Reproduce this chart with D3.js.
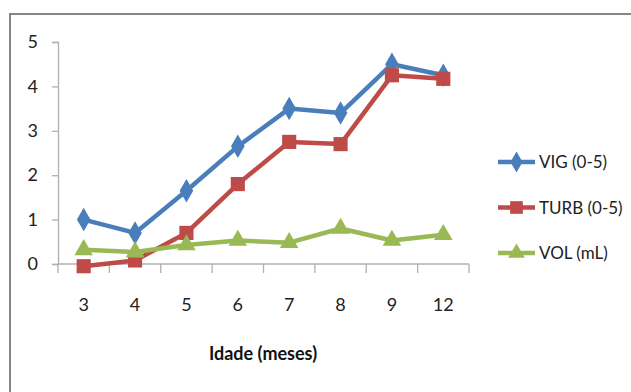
<!DOCTYPE html>
<html>
<head>
<meta charset="utf-8">
<script src="https://cdn.jsdelivr.net/npm/d3@7"></script>
<style>
  html, body { margin: 0; padding: 0; background: #fff; }
  svg { display: block; font-family: Lato, "Open Sans", sans-serif; }
</style>
</head>
<body>
<svg id="chart" width="631" height="392"></svg>
<script>
// Age in months
const categories = ["3", "4", "5", "6", "7", "8", "9", "12"];
// Vigour score (0-5)
const vig = [1.0, 0.7, 1.65, 2.65, 3.5, 3.4, 4.5, 4.25];
// Turbidity score (0-5)
const turb = [-0.05, 0.08, 0.7, 1.8, 2.75, 2.7, 4.25, 4.17];
// Volume (mL)
const vol = [0.32, 0.27, 0.43, 0.53, 0.48, 0.8, 0.53, 0.66];
const yTicks = [0, 1, 2, 3, 4, 5];

const seriesNames = ["VIG (0-5)", "TURB (0-5)", "VOL (mL)"];
const seriesColors = ["#4a7ebb", "#be4b48", "#98b954"];
const seriesShapes = [d3.symbolDiamond, d3.symbolSquare, d3.symbolTriangle];
const seriesSizes = [160, 200, 150];
const series = [vig, turb, vol].map((values, i) => ({
  name: seriesNames[i], color: seriesColors[i], shape: seriesShapes[i],
  size: seriesSizes[i], values
}));

const svg = d3.select("#chart");

// outer frame (top and left edges)
svg.append("path")
  .attr("d", "M10,392 V14 H631")
  .attr("fill", "none")
  .attr("stroke", "#868686")
  .attr("stroke-width", 2);

const x = d3.scaleBand().domain(categories).range([58, 469]);
const y = d3.scaleLinear().domain([0, 5]).range([264, 42]);

// y axis
const yAxis = svg.append("g").attr("transform", "translate(58,0)")
  .call(d3.axisLeft(y).tickValues(yTicks).tickSize(6).tickPadding(14).tickFormat(d3.format("d")));
yAxis.select(".domain").attr("stroke", "#b0b0b0").attr("stroke-width", 1.3);
yAxis.selectAll(".tick line").attr("stroke", "#b0b0b0").attr("stroke-width", 1.3);
yAxis.selectAll(".tick text").attr("font-size", 18).attr("fill", "#222")
  .attr("font-family", "Lato, sans-serif");

// x axis with ticks at band boundaries
const xAxisG = svg.append("g").attr("transform", `translate(0,${y(0)})`);
xAxisG.append("line")
  .attr("x1", x.range()[0]).attr("x2", x.range()[1])
  .attr("stroke", "#b0b0b0").attr("stroke-width", 1.3);
const bounds = categories.map(c => x(c)).concat([x.range()[1]]);
xAxisG.selectAll("line.tk").data(bounds).join("line").attr("class", "tk")
  .attr("x1", d => d).attr("x2", d => d).attr("y1", 0).attr("y2", 9)
  .attr("stroke", "#b0b0b0").attr("stroke-width", 1.3);
xAxisG.selectAll("text").data(categories).join("text")
  .attr("x", d => x(d) + x.bandwidth() / 2)
  .attr("y", 47)
  .attr("text-anchor", "middle")
  .attr("font-size", 18).attr("fill", "#222")
  .text(d => d);

// axis title
svg.append("text")
  .attr("x", 263).attr("y", 360)
  .attr("text-anchor", "middle")
  .attr("font-size", 18).attr("font-weight", "bold").attr("fill", "#111")
  .text("Idade (meses)");

// series lines and markers
const cx = c => x(c) + x.bandwidth() / 2;
const line = d3.line().x((d, i) => cx(categories[i])).y(d => y(d));

series.forEach(s => {
  svg.append("path")
    .datum(s.values)
    .attr("d", line)
    .attr("fill", "none")
    .attr("stroke", s.color)
    .attr("stroke-width", 4.5)
    .attr("stroke-linejoin", "round");
});
series.forEach(s => {
  svg.append("g").selectAll("path").data(s.values).join("path")
    .attr("transform", (d, i) => `translate(${cx(categories[i])},${y(d)})`)
    .attr("d", d3.symbol().type(s.shape).size(s.size))
    .attr("fill", s.color);
});

// legend
const legend = svg.append("g");
series.forEach((s, i) => {
  const ly = 162 + i * 45.5;
  legend.append("line")
    .attr("x1", 498).attr("x2", 535).attr("y1", ly).attr("y2", ly)
    .attr("stroke", s.color).attr("stroke-width", 4.5);
  legend.append("path")
    .attr("transform", `translate(516.5,${ly})`)
    .attr("d", d3.symbol().type(s.shape).size(s.size * 0.8))
    .attr("fill", s.color);
  legend.append("text")
    .attr("x", 539).attr("y", ly + 6)
    .attr("font-size", 17).attr("fill", "#222")
    .text(s.name);
});
</script>
</body>
</html>
